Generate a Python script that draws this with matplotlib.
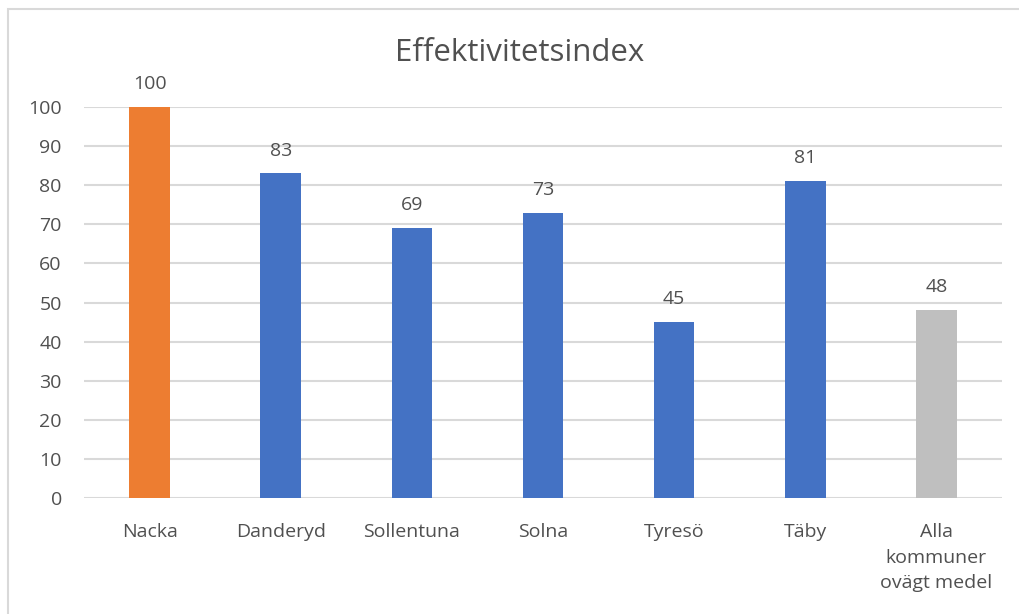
import matplotlib.pyplot as plt
from matplotlib.patches import Rectangle

categories = ["Nacka", "Danderyd", "Sollentuna", "Solna", "Tyresö", "Täby",
              "Alla\nkommuner\novägt medel"]
values = [100, 83, 69, 73, 45, 81, 48]
bar_colors = ["#ED7D31", "#4472C4", "#4472C4", "#4472C4", "#4472C4", "#4472C4", "#BFBFBF"]
y_ticks = list(range(0, 101, 10))

text_color = "#505050"
plt.rcParams["font.family"] = ["Open Sans", "DejaVu Sans"]

fig = plt.figure(figsize=(10.19, 6.14), dpi=100)
fig.patches.append(Rectangle((8 / 1019, -0.1), 1.2, (614 - 9) / 614 + 0.1,
                             transform=fig.transFigure, fill=False,
                             edgecolor="#D9D9D9", linewidth=1.5))

ax = fig.add_axes([84 / 1019, (614 - 498) / 614, (1002 - 84) / 1019, (498 - 107) / 614])
x = range(len(categories))
bars = ax.bar(x, values, width=0.31, color=bar_colors, zorder=3)
labels = ax.bar_label(bars, padding=10, fontsize=14, color=text_color)
for t in labels:
    t.set_clip_on(False)

ax.set_xlim(-0.5, len(categories) - 0.5)
ax.set_ylim(0, 100)
ax.set_yticks(y_ticks)
ax.set_xticks(list(x))
ax.set_xticklabels(categories, linespacing=1.55)
ax.tick_params(axis="y", length=0, pad=16, labelsize=14, labelcolor=text_color)
ax.tick_params(axis="x", length=0, pad=18, labelsize=14, labelcolor=text_color)
ax.grid(axis="y", color="#D9D9D9", linewidth=1.5, zorder=0)
for s in ax.spines.values():
    s.set_visible(False)

fig.text(520 / 1019, 1 - 53 / 614, "Effektivitetsindex", ha="center", va="center",
         fontsize=22.5, color=text_color)

fig.savefig("out.png", dpi=100)
